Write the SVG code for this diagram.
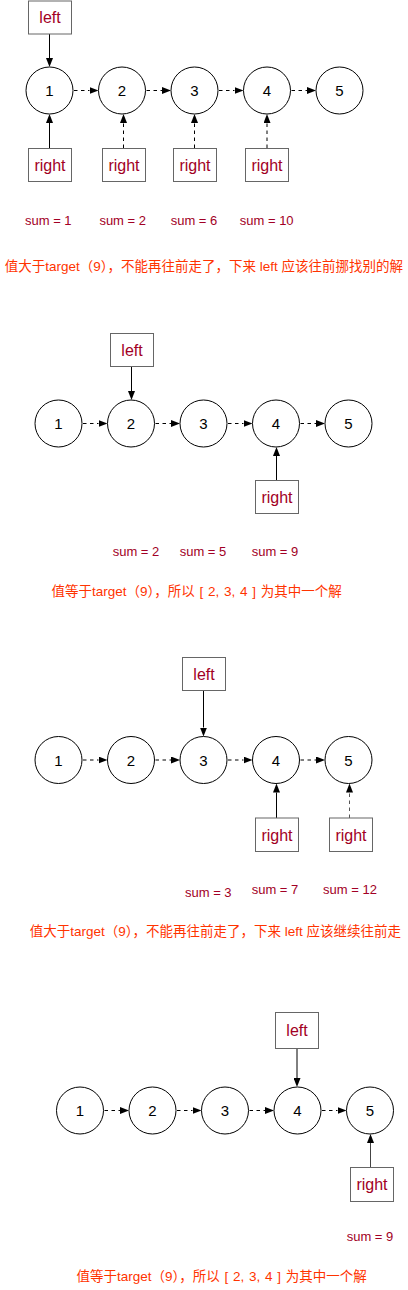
<svg xmlns="http://www.w3.org/2000/svg" width="408" height="1290" viewBox="0 0 408 1290">
<defs>
<marker id="ah" markerWidth="9" markerHeight="7" refX="0" refY="3.5" orient="auto" markerUnits="userSpaceOnUse"><path d="M0,0 L9,3.5 L0,7 z" fill="#000"/></marker>
<style>
.c{fill:#fff;stroke:#000;stroke-width:1}
.b{fill:#fff;stroke:#666;stroke-width:1}
.n{font-family:"Liberation Sans",Arial,sans-serif;font-size:15px;fill:#000;text-anchor:middle}
.l{font-family:"Liberation Sans",Arial,sans-serif;font-size:16px;fill:#A20025;text-anchor:middle}
.s{font-family:"Liberation Sans",Arial,sans-serif;font-size:13px;fill:#A20025;text-anchor:middle}
.z{font-family:"Liberation Sans","Noto Sans CJK SC",sans-serif;font-size:13.5px;fill:#FF3300;text-anchor:middle}
.w{word-spacing:1px}
.e{fill:none;stroke:#000;stroke-width:1;marker-end:url(#ah)}
.d{stroke-dasharray:3.5 3.5}
</style>
</defs>
<rect width="408" height="1290" fill="#fff"/>

<g id="connectors">
<!-- section 1 -->
<line class="e" x1="49.5" y1="34" x2="49.5" y2="58"/>
<line class="e" x1="49.5" y1="148" x2="49.5" y2="123"/>
<line class="e d" x1="123.5" y1="148" x2="123.5" y2="123"/>
<line class="e d" x1="194.5" y1="148" x2="194.5" y2="123"/>
<line class="e d" x1="267" y1="148" x2="267" y2="123"/>
<line class="e d" x1="74" y1="90.5" x2="89.5" y2="90.5"/>
<line class="e d" x1="146.5" y1="90.5" x2="162" y2="90.5"/>
<line class="e d" x1="219" y1="90.5" x2="234.5" y2="90.5"/>
<line class="e d" x1="291.5" y1="90.5" x2="307" y2="90.5"/>
<!-- section 2 -->
<line class="e" x1="131.5" y1="366" x2="131.5" y2="391"/>
<line class="e" x1="276.5" y1="480.5" x2="276.5" y2="456"/>
<line class="e d" x1="83" y1="423.5" x2="98.5" y2="423.5"/>
<line class="e d" x1="155.5" y1="423.5" x2="171" y2="423.5"/>
<line class="e d" x1="228" y1="423.5" x2="243.5" y2="423.5"/>
<line class="e d" x1="300.5" y1="423.5" x2="316" y2="423.5"/>
<!-- section 3 -->
<line class="e" x1="203.5" y1="690.5" x2="203.5" y2="727.5"/>
<line class="e" x1="276.5" y1="818" x2="276.5" y2="792.5"/>
<line class="e d" x1="349.5" y1="818" x2="349.5" y2="792.5" style="stroke:#555"/>
<line class="e d" x1="83" y1="760" x2="98.5" y2="760"/>
<line class="e d" x1="155.5" y1="760" x2="171" y2="760"/>
<line class="e d" x1="228" y1="760" x2="243.5" y2="760"/>
<line class="e d" x1="300.5" y1="760" x2="316" y2="760"/>
<!-- section 4 -->
<line class="e" x1="297" y1="1048.5" x2="297" y2="1078"/>
<line class="e" x1="370.5" y1="1167.5" x2="370.5" y2="1143" style="stroke:#444"/>
<line class="e d" x1="104.5" y1="1110.5" x2="120" y2="1110.5"/>
<line class="e d" x1="177" y1="1110.5" x2="192.5" y2="1110.5"/>
<line class="e d" x1="249.5" y1="1110.5" x2="265" y2="1110.5"/>
<line class="e d" x1="322" y1="1110.5" x2="337.5" y2="1110.5"/>
</g>

<!-- section 1 -->
<g id="s1-left"><rect class="b" x="28.5" y="1" width="43" height="33"/><text class="l" x="50" y="23.3">left</text></g>
<g id="s1-n1"><circle class="c" cx="49.5" cy="90.5" r="23.5"/><text class="n" x="49.5" y="96">1</text></g>
<g id="s1-n2"><circle class="c" cx="122" cy="90.5" r="23.5"/><text class="n" x="122" y="96">2</text></g>
<g id="s1-n3"><circle class="c" cx="194.5" cy="90.5" r="23.5"/><text class="n" x="194.5" y="96">3</text></g>
<g id="s1-n4"><circle class="c" cx="267" cy="90.5" r="23.5"/><text class="n" x="267" y="96">4</text></g>
<g id="s1-n5"><circle class="c" cx="339.5" cy="90.5" r="23.5"/><text class="n" x="339.5" y="96">5</text></g>
<g id="s1-r1"><rect class="b" x="28.5" y="148.5" width="43" height="33"/><text class="l" x="50" y="170.6">right</text></g>
<g id="s1-r2"><rect class="b" x="102.5" y="148.5" width="43" height="33"/><text class="l" x="124" y="170.6">right</text></g>
<g id="s1-r3"><rect class="b" x="173.5" y="148.5" width="43" height="33"/><text class="l" x="195" y="170.6">right</text></g>
<g id="s1-r4"><rect class="b" x="245.5" y="148.5" width="43" height="33"/><text class="l" x="267" y="170.6">right</text></g>
<g id="s1-sums">
<text class="s" x="48.3" y="225">sum = 1</text>
<text class="s" x="122.7" y="225">sum = 2</text>
<text class="s" x="194" y="225">sum = 6</text>
<text class="s" x="266.7" y="225">sum = 10</text>
</g>
<text class="z" x="203.8" y="271">值大于target（9），不能再往前走了，下来 left 应该往前挪找别的解</text>

<!-- section 2 -->
<g id="s2-left"><rect class="b" x="110.5" y="333.5" width="43" height="33"/><text class="l" x="132" y="355.5">left</text></g>
<g id="s2-n1"><circle class="c" cx="58.5" cy="423.5" r="23.5"/><text class="n" x="58.5" y="429">1</text></g>
<g id="s2-n2"><circle class="c" cx="131" cy="423.5" r="23.5"/><text class="n" x="131" y="429">2</text></g>
<g id="s2-n3"><circle class="c" cx="203.5" cy="423.5" r="23.5"/><text class="n" x="203.5" y="429">3</text></g>
<g id="s2-n4"><circle class="c" cx="276" cy="423.5" r="23.5"/><text class="n" x="276" y="429">4</text></g>
<g id="s2-n5"><circle class="c" cx="348.5" cy="423.5" r="23.5"/><text class="n" x="348.5" y="429">5</text></g>
<g id="s2-r4"><rect class="b" x="255.5" y="480.5" width="43" height="33"/><text class="l" x="277" y="502.8">right</text></g>
<g id="s2-sums">
<text class="s" x="136" y="556">sum = 2</text>
<text class="s" x="203" y="556">sum = 5</text>
<text class="s" x="275" y="556">sum = 9</text>
</g>
<text class="z w" x="196.7" y="595.5">值等于target（9），所以 [ 2, 3, 4 ] 为其中一个解</text>

<!-- section 3 -->
<g id="s3-left"><rect class="b" x="182.5" y="657.5" width="43" height="33"/><text class="l" x="204" y="679.8">left</text></g>
<g id="s3-n1"><circle class="c" cx="58.5" cy="760" r="23.5"/><text class="n" x="58.5" y="765.5">1</text></g>
<g id="s3-n2"><circle class="c" cx="131" cy="760" r="23.5"/><text class="n" x="131" y="765.5">2</text></g>
<g id="s3-n3"><circle class="c" cx="203.5" cy="760" r="23.5"/><text class="n" x="203.5" y="765.5">3</text></g>
<g id="s3-n4"><circle class="c" cx="276" cy="760" r="23.5"/><text class="n" x="276" y="765.5">4</text></g>
<g id="s3-n5"><circle class="c" cx="348.5" cy="760" r="23.5"/><text class="n" x="348.5" y="765.5">5</text></g>
<g id="s3-r4"><rect class="b" x="255.5" y="818" width="43" height="33.5"/><text class="l" x="277" y="840.5">right</text></g>
<g id="s3-r5"><rect class="b" x="329.5" y="818" width="43" height="33.5"/><text class="l" x="351" y="840.5">right</text></g>
<g id="s3-sums">
<text class="s" x="208.3" y="896.5">sum = 3</text>
<text class="s" x="275" y="894">sum = 7</text>
<text class="s" x="350" y="894">sum = 12</text>
</g>
<text class="z" x="215.3" y="936">值大于target（9），不能再往前走了，下来 left 应该继续往前走</text>

<!-- section 4 -->
<g id="s4-left"><rect class="b" x="275.5" y="1012.5" width="43" height="36"/><text class="l" x="297" y="1036.3">left</text></g>
<g id="s4-n1"><circle class="c" cx="80" cy="1110.5" r="23.5"/><text class="n" x="80" y="1116">1</text></g>
<g id="s4-n2"><circle class="c" cx="152.5" cy="1110.5" r="23.5"/><text class="n" x="152.5" y="1116">2</text></g>
<g id="s4-n3"><circle class="c" cx="225" cy="1110.5" r="23.5"/><text class="n" x="225" y="1116">3</text></g>
<g id="s4-n4"><circle class="c" cx="297.5" cy="1110.5" r="23.5"/><text class="n" x="297.5" y="1116">4</text></g>
<g id="s4-n5"><circle class="c" cx="370" cy="1110.5" r="23.5"/><text class="n" x="370" y="1116">5</text></g>
<g id="s4-r5"><rect class="b" x="350.5" y="1167.5" width="43" height="34"/><text class="l" x="372" y="1190.3">right</text></g>
<g id="s4-sums">
<text class="s" x="370" y="1240.5">sum = 9</text>
</g>
<text class="z w" x="221.7" y="1281">值等于target（9），所以 [ 2, 3, 4 ] 为其中一个解</text>
</svg>
